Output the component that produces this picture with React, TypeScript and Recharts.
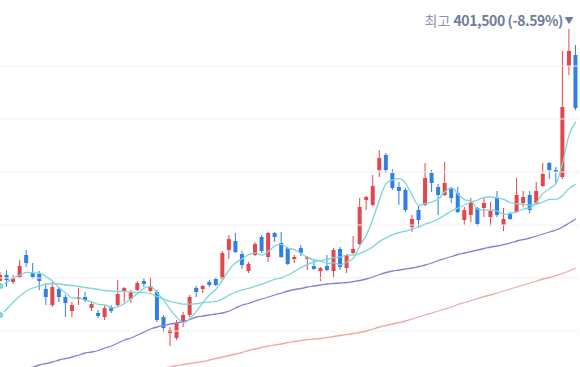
import React from 'react';
import { ComposedChart, Bar, Line, XAxis, YAxis, ReferenceLine } from 'recharts';

// prices in thousand KRW
const opens = [272.5,278.5,275,277.5,288.5,279.5,279,271.5,263.5,271.5,267.5,260.5,266.5,267.5,262,259.5,257.5,262.5,263.5,270,266.5,271,275.5,270.5,270,257.5,249.5,247,255.5,258.5,272,271.5,275,276.5,276.5,291,295.5,289,280.5,288.5,297.5,287.5,299.5,294.5,292,286.5,292,286.5,283,280.5,283,280.5,291.5,282,289.5,294,316,313.5,331,338.5,329.5,322.5,321,302.5,311,313.5,329.5,322.5,318.5,321.5,319.5,306,308.5,312,312,307.5,317,303.5,309,310,314.5,318.5,314.5,323,334.5,331,327.5,383,388.5];
const highs = [280,281,278.5,286,291,284.5,280.5,273.5,275,272.5,268.5,265,272,270,265,261,263.5,263.5,276,272.5,271,275.5,277,277.5,271,258.5,252.5,256,260,268.5,273,273.5,276,277.5,290.5,298.5,299.5,290.5,285,295,298.5,300,300,300,292.5,288.5,293.5,288,286.5,282.5,288.5,292,292.5,289,298,317,318,328.5,341,339.5,331.5,325,322,308.5,313.5,334.5,331,324,335,322.5,322.5,312.5,317,312.5,317,315,320.5,312,310,327,320.5,320.5,325,334.5,335,332.5,390.5,401.5,393.5];
const lows = [271.5,272.5,274,277,282.5,276.5,271,263.5,262.5,265,257.5,257.5,263.5,265,260.5,257,256,259.5,262.5,265,264.5,270.5,272.5,270,255,250,243,246,252.5,257.5,267.5,269.5,272.5,273,276,286.5,289.5,281.5,279.5,288,289.5,285,295,287,283.5,284.5,288,281,281,275.5,280.5,277.5,281,279.5,289,293.5,311,313,327.5,329.5,321,313.5,310,300,302.5,313,320,308.5,318,314.5,309.5,303.5,305,303,307.5,303,307.5,300.5,306,309.5,312.5,309.5,313.5,322.5,326.5,324.5,326.5,378.5,361];
const closes = [278.5,276,277,283,284.5,277.5,275.5,267.5,272.5,267.5,264.5,263.5,267.5,266,264,258,262,260.5,269,272,270,274.5,274,273,256,252,251,254.5,258.5,267.5,270,273,273.5,273.5,289.5,296.5,290,283.5,284,294,290.5,299.5,297.5,287.5,284,287.5,289.5,287.5,281.5,282,281,291,282.5,288.5,291.5,312.5,317.5,323,337,331,322,320.5,311,306.5,306,327,324.5,318.5,324.5,317,310,311,315,304,314.5,310.5,308.5,306.5,306.5,318.5,317.5,311,320.5,329,331,330,362.5,390.5,362];

const ma5 = [273,275,277,278.5,279.8,279.6,279.5,277.6,275.5,272.1,269.5,267.1,267.1,265.8,265.1,263.8,263.5,262.1,262.7,264.3,266.7,269.2,271.9,272.7,269.5,265.9,261.2,257.3,254.4,256.7,260.3,264.7,268.5,271.5,275.9,281.2,284.6,286.6,288.7,289.6,288.4,290.3,293.1,293.8,291.8,291.2,289.2,287.2,286,285.6,284.3,284.6,283.6,285,286.9,293.2,298.5,306.6,316.3,324.2,326.1,326.7,324.3,318.2,313.2,314.2,315,316.5,320.1,322.3,318.9,316.2,315.5,311.4,310.9,311,310.5,308.8,309.3,310.1,311.5,312,314.8,319.3,321.8,324.3,334.6,348.6,355.2];
const ma20 = [258.5,261.5,265,268,270.5,272,273,274,274.25,274,273.5,273.25,272.75,272.25,271.75,271.25,270.75,270.5,270.25,270.3,269.9,269.8,269.7,269.2,267.75,266.5,265.25,264.6,263.9,263.9,264.2,264.65,264.95,265.3,266.6,268.5,269.9,271.1,271.8,272.9,273.95,275.2,276.4,277.1,278.5,280.3,282.2,283.85,285,285.7,286.3,287.2,287.6,288.4,288.5,289.3,290.65,292.6,295.3,297.1,298.7,299.75,300.4,301.4,302.5,304,305,306.5,308.5,310.5,312,313.5,315,316,317.3,317.5,317.1,316.3,314.75,314.1,313.9,313.4,313.9,315,316.3,316.4,318.3,321.9,323.8];
const ma60 = [228,228.75,229.5,230.5,231.5,232.5,233.5,234.25,235,236,236.75,237.5,238.5,239.5,240,240.75,242,243,244.5,246,247,248.5,250,251.5,252.5,253.25,254,254.5,255.25,256.25,257.5,258,258.5,259,259.5,260.5,262,263.5,264.25,265.5,266.5,267.5,268.5,269.5,270.5,271.25,271.75,272.5,273,273.5,274,274.25,274.5,274.75,275.25,275.75,276.5,277.5,278.75,279.75,280.5,281,281.5,282,282.75,283.5,284.5,285.75,286.75,287.75,288.75,289.5,290.25,291,291.75,292.5,293,293.75,294.5,295.5,296.25,297,298,299,300,301,302.5,304.5,306.5];
const ma120 = [null,null,null,null,null,null,null,null,null,null,null,null,null,null,null,null,null,null,null,null,null,null,230.5,231,231.5,232,232.5,233.25,233.75,234.25,234.75,235.25,236,236.75,237.5,238.25,239,239.75,240.75,241.5,242.25,243,243.5,244,244.75,245.25,245.75,246.25,246.5,246.75,247.25,247.75,248.25,248.75,249.25,249.75,250.5,251.5,252.5,253.25,254,254.75,255.5,256.5,257.5,258.5,259.5,260.5,261.5,262.5,263.75,264.75,265.75,266.75,267.75,268.5,269.5,270.5,271.5,272.5,273.5,274.5,275.5,276.5,277.25,278.25,279.25,280.5,282];

const gridTicks = [383, 356.5, 330, 303.5, 277, 250.5];
const yDomain = [232.5, 416];
const highIndex = 87;
const highPrefix = '최고';
const highValueText = '401,500 (-8.59%)';
const highArrow = '▼';

const UP = '#e4464e';
const DOWN = '#2e7fe6';
const FONT = "'Noto Sans CJK KR', 'Noto Sans', sans-serif";

const data = closes.map((c, i) => ({
  idx: i,
  open: opens[i],
  high: highs[i],
  low: lows[i],
  close: c,
  range: [lows[i], highs[i]],
  ma5: ma5[i],
  ma20: ma20[i],
  ma60: ma60[i],
  ma120: ma120[i],
}));

const Candle = (props: any) => {
  const { x, y, width, height, payload } = props;
  if (x == null || y == null) return null;
  const top = Math.min(y, y + height);
  const h = Math.abs(height);
  const { open, close, high, low } = payload;
  const k = h / (high - low || 1);
  const yo = top + (high - open) * k;
  const yc = top + (high - close) * k;
  const color = close >= open ? UP : DOWN;
  const cx = x + width / 2;
  const bt = Math.min(yo, yc);
  const bh = Math.max(Math.abs(yo - yc), 1);
  return (
    <g>
      <line x1={cx} x2={cx} y1={top} y2={top + h} stroke={color} strokeWidth={1} />
      <rect x={x} y={bt} width={width} height={bh} fill={color} />
      {payload.idx === highIndex && (
        <g fontFamily={FONT}>
          <text x={cx - 6} y={top - 3} textAnchor="end" fontSize={14}>
            <tspan fill="#8c95ae">{highPrefix} </tspan>
            <tspan fill="#6f7b9b" fontWeight={700} letterSpacing={-0.4}>{highValueText}</tspan>
          </text>
          <text x={cx} y={top - 5} textAnchor="middle" fontSize={9} fill="#6f7b9b">{highArrow}</text>
        </g>
      )}
    </g>
  );
};

export default function App() {
  return (
    <div style={{ position: 'absolute', left: 0, top: 0, width: 580, height: 367, background: '#fff' }}>
      <ComposedChart width={580} height={367} data={data} margin={{ top: 0, right: 1, bottom: 0, left: -3 }}>
        <XAxis dataKey="idx" hide />
        <YAxis hide domain={yDomain} allowDataOverflow />
        {gridTicks.map((t) => (
          <ReferenceLine key={t} y={t} stroke="#f1f1f3" strokeWidth={1} />
        ))}
        <Line dataKey="ma120" stroke="#f2a7a7" strokeWidth={1.3} dot={false} isAnimationActive={false} type="monotone" />
        <Line dataKey="ma60" stroke="#8b7fd4" strokeWidth={1.3} dot={false} isAnimationActive={false} type="monotone" />
        <Bar dataKey="range" barSize={4} shape={<Candle />} isAnimationActive={false} />
        <Line dataKey="ma20" stroke="#7dd6d6" strokeWidth={1.3} dot={false} isAnimationActive={false} type="monotone" />
        <Line dataKey="ma5" stroke="#7dd6d6" strokeWidth={1.3} dot={false} isAnimationActive={false} type="monotone" />
      </ComposedChart>
    </div>
  );
}
